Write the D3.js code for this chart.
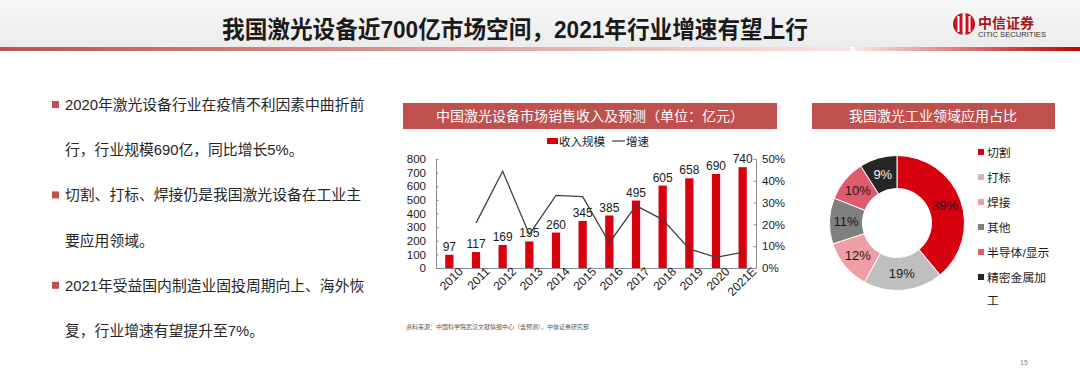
<!DOCTYPE html>
<html>
<head>
<meta charset="utf-8">
<title>我国激光设备近700亿市场空间</title>
<script src="https://d3js.org/d3.v7.min.js"></script>
<style>
  body { margin: 0; background: #fff; }
  svg { display: block; font-family: "Liberation Sans", "Noto Sans CJK SC", sans-serif; }
</style>
</head>
<body>
<svg width="1080" height="377"></svg>
<script>
    // 柱状图数据
    var years = ["2010", "2011", "2012", "2013", "2014", "2015", "2016", "2017", "2018", "2019", "2020", "2021E"];
    var revenue = [97, 117, 169, 195, 260, 345, 385, 495, 605, 658, 690, 740];
    // 增速（%），2010年无数据
    var growth = [null, 20.6, 44.4, 15.4, 33.3, 32.7, 11.6, 28.6, 22.2, 8.8, 4.9, 7.2];
    var leftTicks = [0, 100, 200, 300, 400, 500, 600, 700, 800];
    var rightTicks = [0, 10, 20, 30, 40, 50];

    // 饼图数据
    var fields = ["切割", "打标", "焊接", "其他", "半导体/显示", "精密金属加工"];
    var shares = [39, 19, 12, 11, 10, 9];
    var fieldColors = ["#d7000f", "#bfbfbf", "#f09ea6", "#7f7f7f", "#e05c6c", "#262626"];

    var bullets = [
        "2020年激光设备行业在疫情不利因素中曲折前",
        "行，行业规模690亿，同比增长5%。",
        "切割、打标、焊接仍是我国激光设备在工业主",
        "要应用领域。",
        "2021年受益国内制造业固投周期向上、海外恢",
        "复，行业增速有望提升至7%。"
    ];

    var svg = d3.select("svg");
    var defs = svg.append("defs");

    // 顶部标题栏
    var bg = defs.append("linearGradient").attr("id", "topbg").attr("x1", 0).attr("y1", 0).attr("x2", 0).attr("y2", 1);
    bg.append("stop").attr("offset", "0%").attr("stop-color", "#f7f7f7");
    bg.append("stop").attr("offset", "100%").attr("stop-color", "#ececec");
    svg.append("rect").attr("x", 0).attr("y", 0).attr("width", 1080).attr("height", 47).attr("fill", "url(#topbg)");

    var lineL = defs.append("linearGradient").attr("id", "lineL");
    lineL.append("stop").attr("offset", "0%").attr("stop-color", "#c0504d");
    lineL.append("stop").attr("offset", "100%").attr("stop-color", "#fbe4e4");
    svg.append("rect").attr("x", 0).attr("y", 47).attr("width", 850).attr("height", 4).attr("fill", "url(#lineL)");
    var lineR = defs.append("linearGradient").attr("id", "lineR");
    lineR.append("stop").attr("offset", "0%").attr("stop-color", "#fbe4e4");
    lineR.append("stop").attr("offset", "100%").attr("stop-color", "#c00000");
    svg.append("rect").attr("x", 855).attr("y", 47).attr("width", 225).attr("height", 4).attr("fill", "url(#lineR)");

    svg.append("text")
        .attr("x", 222).attr("y", 38)
        .attr("textLength", 586).attr("lengthAdjust", "spacingAndGlyphs")
        .style("font-size", "24px").style("font-weight", "bold").style("fill", "#1a1a1a")
        .text("我国激光设备近700亿市场空间，2021年行业增速有望上行");

    // 中信证券 logo
    var logo = svg.append("g").attr("transform", "translate(964,24)");
    logo.append("circle").attr("r", 11).attr("fill", "#c8101e");
    logo.append("rect").attr("x", -1.5).attr("y", -11).attr("width", 3).attr("height", 22).attr("fill", "#fff");
    logo.append("rect").attr("x", -6.5).attr("y", -8).attr("width", 2).attr("height", 16).attr("fill", "#fff");
    logo.append("rect").attr("x", 4.5).attr("y", -8).attr("width", 2).attr("height", 16).attr("fill", "#fff");
    svg.append("text").attr("x", 978).attr("y", 28)
        .style("font-size", "14px").style("font-weight", "bold").style("fill", "#a6121b")
        .text("中信证券");
    svg.append("text").attr("x", 978).attr("y", 37)
        .attr("textLength", 68).attr("lengthAdjust", "spacingAndGlyphs")
        .style("font-size", "6.5px").style("fill", "#333")
        .text("CITIC SECURITIES");

    // 左侧要点
    var bulletG = svg.append("g");
    bullets.forEach(function(t, i) {
        var y = 105 + i * 45.2;
        if (i % 2 === 0) {
            bulletG.append("rect").attr("x", 52).attr("y", y - 4).attr("width", 7).attr("height", 7).attr("fill", "#c0504d");
        }
        bulletG.append("text").attr("x", 65).attr("y", y + 5)
            .style("font-size", "14.8px").style("fill", "#262626")
            .text(t);
    });

    // 柱状图标题
    svg.append("rect").attr("x", 403).attr("y", 103).attr("width", 374).attr("height", 26).attr("fill", "#c0504d");
    svg.append("text").attr("x", 590).attr("y", 121).attr("text-anchor", "middle")
        .style("font-size", "14px").style("fill", "#fff")
        .text("中国激光设备市场销售收入及预测（单位：亿元）");

    // 图例
    svg.append("rect").attr("x", 547).attr("y", 138).attr("width", 11).attr("height", 6).attr("fill", "#d7000f");
    svg.append("text").attr("x", 559).attr("y", 145.5).style("font-size", "11.5px").style("fill", "#1a1a1a").text("收入规模");
    svg.append("line").attr("x1", 612).attr("x2", 625).attr("y1", 141).attr("y2", 141).attr("stroke", "#404040").attr("stroke-width", 1.2);
    svg.append("text").attr("x", 626).attr("y", 145.5).style("font-size", "11.5px").style("fill", "#1a1a1a").text("增速");

    var x = d3.scaleBand().domain(years).range([436, 756]).paddingInner(0.69).paddingOuter(0.345);
    var yL = d3.scaleLinear().domain([0, 800]).range([268, 159]);
    var yR = d3.scaleLinear().domain([0, 50]).range([268, 159]);

    var chart = svg.append("g");

    var axL = chart.append("g").attr("transform", "translate(436,0)")
        .call(d3.axisLeft(yL).tickValues(leftTicks).tickSizeInner(-2.5).tickSizeOuter(0).tickPadding(10));
    var axR = chart.append("g").attr("transform", "translate(756,0)")
        .call(d3.axisRight(yR).tickValues(rightTicks).tickSizeInner(-2.5).tickSizeOuter(0).tickPadding(6)
            .tickFormat(function(d) { return d + "%"; }));
    var axB = chart.append("g").attr("transform", "translate(0,268)")
        .call(d3.axisBottom(x).tickSize(0).tickPadding(6));
    axB.selectAll("text")
        .attr("text-anchor", "end")
        .attr("dx", "0.6em").attr("dy", "0.6em")
        .attr("transform", "rotate(-45)");
    [axL, axR, axB].forEach(function(a) {
        a.selectAll("path, line").attr("stroke", "#8c8c8c");
        a.selectAll("text").style("font-size", "11.5px").style("fill", "#1a1a1a")
            .style("font-family", "Liberation Sans, Noto Sans CJK SC, sans-serif");
    });
    axB.selectAll("text").style("font-size", "12px");

    chart.selectAll("rect.bar").data(revenue).enter().append("rect")
        .attr("class", "bar")
        .attr("x", function(d, i) { return x(years[i]); })
        .attr("width", x.bandwidth())
        .attr("y", function(d) { return yL(d); })
        .attr("height", function(d) { return yL(0) - yL(d); })
        .attr("fill", "#d7000f");

    chart.selectAll("text.val").data(revenue).enter().append("text")
        .attr("class", "val")
        .attr("x", function(d, i) { return x(years[i]) + x.bandwidth() / 2; })
        .attr("y", function(d) { return yL(d) - 4; })
        .attr("text-anchor", "middle")
        .style("font-size", "12px").style("fill", "#1a1a1a")
        .text(function(d) { return d; });

    var line = d3.line()
        .defined(function(d) { return d != null; })
        .x(function(d, i) { return x(years[i]) + x.bandwidth() / 2; })
        .y(function(d) { return yR(d); });
    chart.append("path").datum(growth)
        .attr("d", line)
        .attr("fill", "none").attr("stroke", "#404040").attr("stroke-width", 1.3);

    svg.append("text").attr("x", 406).attr("y", 329)
        .style("font-size", "6px").style("fill", "#595959")
        .text("资料来源：中国科学院武汉文献情报中心（含预测），中信证券研究部");

    // 饼图标题
    svg.append("rect").attr("x", 812).attr("y", 103).attr("width", 243).attr("height", 26).attr("fill", "#c0504d");
    svg.append("text").attr("x", 933).attr("y", 121).attr("text-anchor", "middle")
        .style("font-size", "14px").style("fill", "#fff")
        .text("我国激光工业领域应用占比");

    var pie = d3.pie().sort(null).value(function(d) { return d; });
    var arc = d3.arc().innerRadius(34.5).outerRadius(67.5);
    var labelArc = d3.arc().innerRadius(51).outerRadius(51);
    var donut = svg.append("g").attr("transform", "translate(897,223)");
    var arcs = pie(shares);
    donut.selectAll("path").data(arcs).enter().append("path")
        .attr("d", arc)
        .attr("fill", function(d, i) { return fieldColors[i]; })
        .attr("stroke", "#fff").attr("stroke-width", 1);
    donut.selectAll("text").data(arcs).enter().append("text")
        .attr("transform", function(d) { return "translate(" + labelArc.centroid(d) + ")"; })
        .attr("text-anchor", "middle").attr("dy", "0.36em")
        .style("font-size", "13px")
        .style("fill", function(d, i) { return i === 5 ? "#f2f2f2" : "#1a1a1a"; })
        .text(function(d) { return d.data + "%"; });

    // 饼图图例
    var leg = svg.append("g");
    fields.forEach(function(f, i) {
        var y = 152 + i * 25;
        leg.append("rect").attr("x", 978).attr("y", y - 3).attr("width", 6).attr("height", 6).attr("fill", fieldColors[i]);
        var label = f === "精密金属加工" ? ["精密金属加", "工"] : [f];
        label.forEach(function(t, j) {
            leg.append("text").attr("x", 987).attr("y", y + 5 + j * 23)
                .style("font-size", "11.8px").style("fill", "#1a1a1a").text(t);
        });
    });

    svg.append("text").attr("x", 1020).attr("y", 365)
        .style("font-size", "7px").style("fill", "#7f7f7f").text("15");
</script>
</body>
</html>
